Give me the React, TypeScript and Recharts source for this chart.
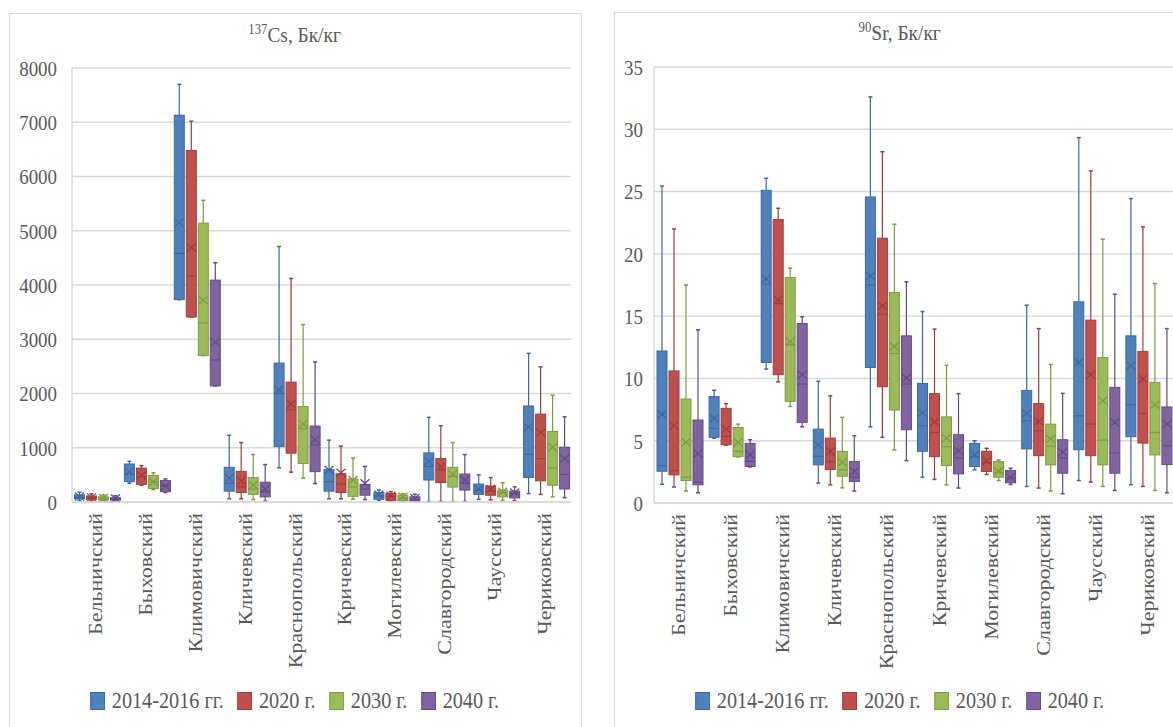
import { ComposedChart, Bar, XAxis, YAxis, CartesianGrid } from "recharts";

const FONT = '"Liberation Serif", "Times New Roman", serif';
const TEXT = "#595959";
const GRID = "#d9d9d9";

const DISTRICTS = [
  "Бельничский",
  "Быховский",
  "Климовичский",
  "Кличевский",
  "Краснопольский",
  "Кричевский",
  "Могилевский",
  "Славгородский",
  "Чаусский",
  "Чериковский",
];

const SERIES = ["2014-2016 гг.", "2020 г.", "2030 г.", "2040 г."];
const FILLS = ["#4f81bd", "#c0504d", "#9bbb59", "#8064a2"];
const EDGES = ["#3b69a3", "#a03c39", "#7c9c3f", "#624b84"];

const CS_TICKS = [0, 1000, 2000, 3000, 4000, 5000, 6000, 7000, 8000];
const SR_TICKS = [0, 5, 10, 15, 20, 25, 30, 35];

// each entry: [min, q1, median, q3, max, mean]
const CS_2014 = [
  [30, 60, 85, 130, 180, 100],
  [345, 375, 520, 700, 750, 560],
  [3730, 3730, 4580, 7130, 7700, 5150],
  [60, 200, 345, 640, 1230, 440],
  [630, 1020, 2000, 2560, 4710, 2070],
  [60, 200, 375, 600, 1140, 590],
  [30, 50, 115, 175, 220, 140],
  [10, 405, 655, 905, 1560, 750],
  [50, 140, 220, 330, 500, 240],
  [155, 450, 880, 1770, 2740, 1380],
];
const CS_2020 = [
  [25, 50, 75, 110, 150, 85],
  [310, 325, 470, 625, 670, 490],
  [3410, 3410, 4170, 6480, 7020, 4690],
  [60, 175, 280, 565, 1095, 390],
  [550, 900, 1700, 2210, 4120, 1810],
  [60, 175, 330, 520, 1030, 540],
  [20, 30, 95, 155, 190, 115],
  [10, 360, 595, 800, 1405, 655],
  [40, 125, 200, 295, 450, 240],
  [140, 390, 800, 1620, 2490, 1280],
];
const CS_2030 = [
  [20, 40, 60, 95, 130, 75],
  [230, 250, 370, 490, 540, 375],
  [2700, 2700, 3300, 5140, 5560, 3720],
  [45, 140, 240, 450, 875, 310],
  [440, 710, 1350, 1760, 3270, 1440],
  [50, 105, 280, 425, 810, 405],
  [15, 25, 75, 125, 155, 95],
  [10, 275, 470, 640, 1095, 515],
  [30, 95, 175, 220, 355, 190],
  [95, 310, 630, 1300, 1970, 1010],
];
const CS_2040 = [
  [15, 35, 50, 80, 115, 65],
  [175, 190, 300, 395, 425, 295],
  [2140, 2140, 2620, 4090, 4410, 2950],
  [15, 95, 190, 365, 690, 240],
  [340, 560, 1050, 1400, 2580, 1150],
  [45, 125, 240, 325, 655, 345],
  [12, 20, 50, 95, 145, 75],
  [10, 220, 345, 515, 875, 405],
  [20, 75, 155, 200, 280, 175],
  [80, 240, 510, 1010, 1570, 800],
];

const SR_2014 = [
  [1.5, 2.55, 3.0, 12.2, 25.45, 7.1],
  [5.2, 5.27, 6.0, 8.54, 9.05, 6.8],
  [10.75, 11.28, 17.57, 25.1, 26.07, 18.0],
  [1.6, 3.06, 3.75, 5.93, 9.76, 4.68],
  [6.12, 10.88, 17.5, 24.57, 32.6, 18.24],
  [2.07, 4.15, 6.2, 9.6, 15.37, 7.25],
  [2.66, 2.93, 3.72, 4.79, 5.0, 3.88],
  [1.33, 4.34, 6.6, 9.04, 15.88, 7.2],
  [1.8, 4.28, 7.0, 16.15, 29.33, 11.28],
  [1.46, 5.32, 7.89, 13.42, 24.44, 11.02],
];
const SR_2020 = [
  [1.28, 2.26, 2.6, 10.6, 22.0, 6.2],
  [4.65, 4.68, 5.35, 7.6, 7.98, 5.93],
  [9.73, 10.3, 16.0, 22.75, 23.66, 16.3],
  [1.46, 2.69, 3.32, 5.21, 8.6, 4.15],
  [5.27, 9.33, 15.16, 21.26, 28.2, 15.83],
  [1.89, 3.72, 5.66, 8.78, 13.96, 6.5],
  [2.29, 2.53, 3.22, 4.15, 4.39, 3.4],
  [1.2, 3.8, 5.8, 7.98, 14.0, 6.55],
  [1.68, 3.8, 6.34, 14.68, 26.66, 10.29],
  [1.33, 4.81, 7.19, 12.17, 22.17, 9.95],
];
const SR_2030 = [
  [0.96, 1.8, 2.07, 8.35, 17.5, 4.87],
  [3.7, 3.72, 4.15, 6.06, 6.33, 4.87],
  [7.75, 8.16, 12.7, 18.1, 18.85, 12.97],
  [1.22, 2.15, 2.66, 4.15, 6.87, 3.27],
  [4.26, 7.46, 12.0, 16.9, 22.38, 12.57],
  [1.46, 3.0, 4.52, 6.91, 11.04, 5.2],
  [1.8, 2.07, 2.47, 3.32, 3.46, 2.55],
  [0.96, 3.06, 4.55, 6.33, 11.12, 5.13],
  [1.33, 3.06, 5.05, 11.68, 21.18, 8.2],
  [1.01, 3.86, 5.67, 9.68, 17.62, 7.89],
];
const SR_2040 = [
  [0.82, 1.46, 1.68, 6.66, 13.9, 3.98],
  [2.9, 2.93, 3.35, 4.79, 5.08, 3.88],
  [6.12, 6.47, 9.55, 14.41, 14.95, 10.29],
  [0.96, 1.73, 2.07, 3.32, 5.4, 2.55],
  [3.4, 5.88, 9.55, 13.42, 17.75, 10.03],
  [1.2, 2.34, 3.62, 5.48, 8.78, 4.2],
  [1.49, 1.62, 2.02, 2.61, 2.79, 2.07],
  [0.74, 2.39, 3.62, 5.08, 8.8, 4.07],
  [1.01, 2.39, 4.01, 9.28, 16.76, 6.47],
  [0.82, 3.09, 4.6, 7.71, 14.0, 6.34],
];

function buildRows(series: number[][][]) {
  return DISTRICTS.map((name, i) => {
    const row: any = { name, stats: series.map((s) => s[i]) };
    series.forEach((s, k) => {
      row["s" + k] = [s[i][0], s[i][4]];
    });
    return row;
  });
}

const csRows = buildRows([CS_2014, CS_2020, CS_2030, CS_2040]);
const srRows = buildRows([SR_2014, SR_2020, SR_2030, SR_2040]);

// box + whiskers drawn inside the range bar (min..max) that recharts lays out
function BoxShape(props: any) {
  const { x, y, width, height, payload, idx } = props;
  const [mn, q1, med, q3, mx, mean] = payload.stats[idx];
  const top = height >= 0 ? y : y + height;
  const h = Math.abs(height);
  const py = (v: number) => top + ((mx - v) / (mx - mn)) * h;
  const cx = x + width / 2;
  const edge = EDGES[idx];
  const yq3 = py(q3);
  const yq1 = py(q1);
  const ym = py(mean);
  return (
    <g>
      <line x1={cx} x2={cx} y1={py(mx)} y2={yq3} stroke={edge} strokeWidth={1.2} />
      <line x1={cx} x2={cx} y1={yq1} y2={py(mn)} stroke={edge} strokeWidth={1.2} />
      <line x1={cx - 2} x2={cx + 2} y1={py(mx)} y2={py(mx)} stroke={edge} strokeWidth={1.5} />
      <line x1={cx - 2} x2={cx + 2} y1={py(mn)} y2={py(mn)} stroke={edge} strokeWidth={1.5} />
      <rect
        x={x + 0.5}
        y={yq3}
        width={width - 1}
        height={Math.max(yq1 - yq3, 0.5)}
        fill={FILLS[idx]}
        stroke={edge}
        strokeWidth={1}
      />
      <line x1={x + 0.5} x2={x + width - 0.5} y1={py(med)} y2={py(med)} stroke={edge} strokeWidth={1.2} />
      <line x1={cx - 4.5} x2={cx + 4.5} y1={ym - 4} y2={ym + 4} stroke={edge} strokeWidth={1.3} />
      <line x1={cx - 4.5} x2={cx + 4.5} y1={ym + 4} y2={ym - 4} stroke={edge} strokeWidth={1.3} />
    </g>
  );
}

function YTick({ x, y, payload }: any) {
  return (
    <text
      transform={`translate(${x},${y}) scale(0.86,1)`}
      textAnchor="end"
      dy="0.36em"
      fontSize={22}
      fontFamily={FONT}
      fill={TEXT}
    >
      {payload.value}
    </text>
  );
}

function XTick({ x, y, payload }: any) {
  return (
    <text
      transform={`translate(${x + 5},${y + 11}) scale(0.86,1) rotate(-90)`}
      textAnchor="end"
      fontSize={22}
      fontFamily={FONT}
      fill={TEXT}
    >
      {payload.value}
    </text>
  );
}

function Legend({ left }: { left: number }) {
  return (
    <div
      style={{
        position: "absolute",
        left,
        top: 687,
        width: 572,
        display: "flex",
        justifyContent: "center",
      }}
    >
      <div
        style={{
          display: "flex",
          alignItems: "center",
          transform: "scaleX(0.86)",
          fontFamily: FONT,
          fontSize: 23.5,
          color: TEXT,
          whiteSpace: "nowrap",
        }}
      >
        {SERIES.map((s, i) => (
          <div key={s} style={{ display: "flex", alignItems: "center", marginLeft: i ? 16 : 0 }}>
            <span
              style={{
                display: "inline-block",
                width: 15,
                height: 16,
                background: FILLS[i],
                border: `1px solid ${EDGES[i]}`,
                marginRight: 8,
              }}
            />
            {s}
          </div>
        ))}
      </div>
    </div>
  );
}

function Title({ left, top, sup, rest }: any) {
  return (
    <div
      style={{
        position: "absolute",
        left,
        top,
        width: 572,
        textAlign: "center",
        fontFamily: FONT,
        fontSize: 22,
        color: TEXT,
      }}
    >
      <span style={{ display: "inline-block", transform: "scaleX(0.88)" }}>
        <span style={{ fontSize: 14.5, verticalAlign: "8px" }}>{sup}</span>
        {rest}
      </span>
    </div>
  );
}

function BoxChart({ rows, ticks, max, left, top, height, yWidth, right, tickGap, xHeight, catGap }: any) {
  return (
    <div style={{ position: "absolute", left, top }}>
      <ComposedChart
        width={572}
        height={height}
        data={rows}
        margin={{ top: 55, right, bottom: 0, left: 0 }}
        barCategoryGap={catGap}
        barGap={1}
      >
        <CartesianGrid vertical={false} stroke={GRID} strokeWidth={1.4} />
        <XAxis
          dataKey="name"
          interval={0}
          height={xHeight}
          tickLine={false}
          tickSize={0}
          tickMargin={0}
          axisLine={{ stroke: GRID, strokeWidth: 1.6 }}
          tick={<XTick />}
        />
        <YAxis
          type="number"
          domain={[0, max]}
          ticks={ticks}
          interval={0}
          width={yWidth}
          tickLine={false}
          tickSize={0}
          tickMargin={tickGap}
          axisLine={{ stroke: GRID, strokeWidth: 1.4 }}
          tick={<YTick />}
        />
        {SERIES.map((s, i) => (
          <Bar
            key={s}
            dataKey={"s" + i}
            name={s}
            isAnimationActive={false}
            shape={(p: any) => <BoxShape {...p} idx={i} />}
          />
        ))}
      </ComposedChart>
    </div>
  );
}

export default function App() {
  return (
    <div
      style={{
        position: "absolute",
        left: 0,
        top: 0,
        width: 1173,
        height: 727,
        overflow: "hidden",
        background: "#fff",
      }}
    >
      <div
        style={{
          position: "absolute",
          left: 9,
          top: 13,
          width: 573,
          height: 760,
          boxSizing: "border-box",
          border: `1px solid ${GRID}`,
        }}
      />
      <div
        style={{
          position: "absolute",
          left: 614,
          top: 12,
          width: 600,
          height: 760,
          boxSizing: "border-box",
          border: `1px solid ${GRID}`,
        }}
      />
      <Title left={9} top={21} sup="137" rest="Cs, Бк/кг" />
      <Title left={614} top={19} sup="90" rest="Sr, Бк/кг" />
      <BoxChart
        rows={csRows}
        ticks={CS_TICKS}
        max={8000}
        left={9}
        top={13}
        height={714}
        yWidth={63}
        right={10}
        tickGap={15}
        xHeight={225}
        catGap={2}
      />
      <BoxChart
        rows={srRows}
        ticks={SR_TICKS}
        max={35}
        left={614}
        top={12}
        height={715}
        yWidth={40}
        right={11}
        tickGap={11}
        xHeight={224}
        catGap={2.5}
      />
      <Legend left={9} />
      <Legend left={614} />
    </div>
  );
}
